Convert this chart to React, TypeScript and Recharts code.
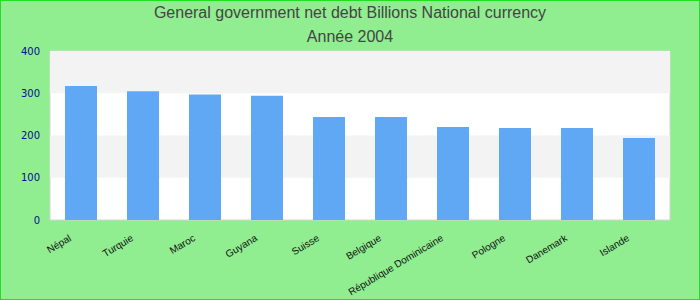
import { Bar, BarChart, ReferenceArea, XAxis, YAxis } from "recharts";

const COUNTRIES = [
  "Népal",
  "Turquie",
  "Maroc",
  "Guyana",
  "Suisse",
  "Belgique",
  "République Dominicaine",
  "Pologne",
  "Danemark",
  "Islande",
];
const DEBT = [317, 305, 297, 294, 244, 244, 220, 218, 218, 194];
const Y_TICKS = [0, 100, 200, 300, 400];
const TITLE = "General government net debt Billions National currency";
const SUBTITLE = "Année 2004";

const data = COUNTRIES.map((country, i) => ({ country, value: DEBT[i] }));

function CountryTick({ x, y, payload }: { x: number; y: number; payload: { value: string } }) {
  const tx = x - 9;
  const ty = y + 20;
  return (
    <text
      x={tx}
      y={ty}
      transform={`rotate(-31, ${tx}, ${ty})`}
      textAnchor="end"
      fontSize={10}
      fontFamily="'Liberation Sans', Arial, sans-serif"
      fill="#111"
    >
      {payload.value}
    </text>
  );
}

export default function App() {
  return (
    <div
      style={{
        position: "absolute",
        left: 0,
        top: 0,
        width: 700,
        height: 300,
        boxSizing: "border-box",
        border: "1px solid #22dd22",
        background: "#90ee90",
        overflow: "hidden",
      }}
    >
      <div
        style={{
          position: "absolute",
          left: -1,
          top: 0,
          width: 700,
          textAlign: "center",
          fontFamily: "'Liberation Sans', Arial, sans-serif",
          fontSize: 16,
          lineHeight: "24px",
          color: "#444",
        }}
      >
        <div>{TITLE}</div>
        <div>{SUBTITLE}</div>
      </div>
      <div style={{ position: "absolute", left: -1, top: -1 }}>
        <BarChart width={700} height={300} data={data} margin={{ top: 51, right: 30, bottom: 0, left: 0 }}>
          <XAxis
            dataKey="country"
            interval={0}
            height={80}
            tickLine={false}
            axisLine={false}
            tickSize={0}
            tickMargin={0}
            tick={CountryTick}
          />
          <YAxis
            domain={[0, 400]}
            ticks={Y_TICKS}
            width={50}
            tickLine={false}
            axisLine={false}
            tickSize={6}
            tickMargin={4}
            tick={{ fill: "#0a0a8c", fontSize: 10, fontFamily: "'DejaVu Sans', sans-serif" }}
          />
          <ReferenceArea y1={0} y2={400} fill="#ffffff" fillOpacity={1} stroke="#d4d4d4" strokeWidth={1} />
          <ReferenceArea y1={300} y2={400} fill="#f3f3f3" fillOpacity={1} stroke="none" />
          <ReferenceArea y1={100} y2={200} fill="#f3f3f3" fillOpacity={1} stroke="none" />
          <Bar dataKey="value" fill="#61a8f4" barSize={32} isAnimationActive={false} />
        </BarChart>
      </div>
    </div>
  );
}
